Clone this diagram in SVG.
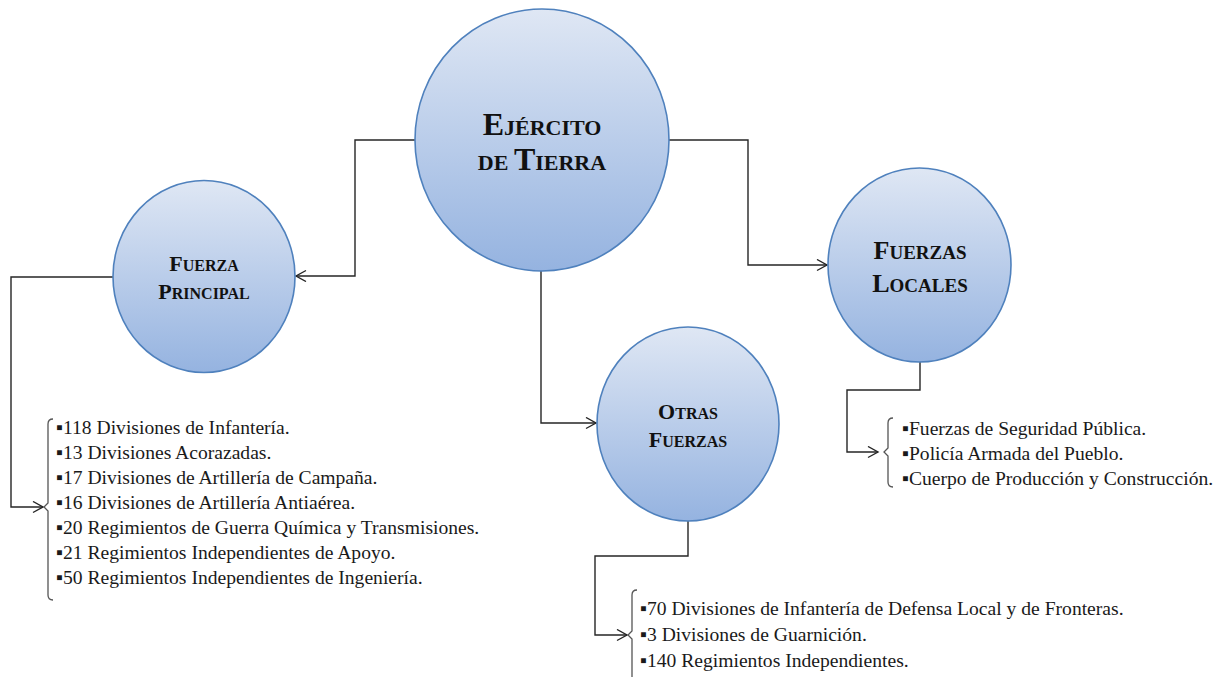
<svg xmlns="http://www.w3.org/2000/svg" width="1220" height="677" viewBox="0 0 1220 677">
<defs>
<linearGradient id="g" x1="0" y1="0" x2="0" y2="1">
<stop offset="0" stop-color="#dfe7f4"/>
<stop offset="1" stop-color="#95b3e0"/>
</linearGradient>
<marker id="arr" markerWidth="14" markerHeight="14" refX="11" refY="6" orient="auto" markerUnits="userSpaceOnUse">
<path d="M1,0.5 L11,6 L1,11.5" fill="none" stroke="#262626" stroke-width="1.4"/>
</marker>
</defs>
<style>
.node{fill:url(#g);stroke:#4f81bd;stroke-width:1.6}
.t{font-family:"Liberation Serif","Times New Roman",serif;font-weight:bold;fill:#111;text-anchor:middle}
.c{fill:none;stroke:#262626;stroke-width:1.4}
.br{fill:none;stroke:#555;stroke-width:1.3}
.l{font-family:"Liberation Serif","Times New Roman",serif;font-size:19.6px;fill:#1a1a1a}
</style>
<rect width="1220" height="677" fill="#fff"/>
<g id="connectors">
<path class="c" d="M415,140 H355 V276 H296" marker-end="url(#arr)"/>
<path class="c" d="M668,140 H748 V265 H827" marker-end="url(#arr)"/>
<path class="c" d="M541,271 V423 H596" marker-end="url(#arr)"/>
<path class="c" d="M113,277 H11 V507 H43" marker-end="url(#arr)"/>
<path class="c" d="M920,362 V390 H847 V452 H878" marker-end="url(#arr)"/>
<path class="c" d="M688,521 V556 H595 V635 H627" marker-end="url(#arr)"/>
<path class="br" d="M53,419 Q48,419 48,424 V503 L44,507 L48,511 V595 Q48,600 53,600"/>
<path class="br" d="M893,418 Q888,418 888,423 V448 L884,452 L888,456 V482 Q888,487 893,487"/>
<path class="br" d="M637,590 Q632,590 632,595 V631 L628,635 L632,639 V680"/>
</g>
<g id="ejercito">
<ellipse class="node" cx="542" cy="140" rx="127" ry="131"/>
<text class="t" x="542" y="135"><tspan font-size="32">E</tspan><tspan font-size="22">JÉRCITO</tspan></text>
<text class="t" x="542" y="170"><tspan font-size="22">DE </tspan><tspan font-size="32">T</tspan><tspan font-size="22">IERRA</tspan></text>
</g>
<g id="fuerza-principal">
<ellipse class="node" cx="204" cy="276.5" rx="91" ry="96"/>
<text class="t" x="204" y="271"><tspan font-size="22">F</tspan><tspan font-size="16">UERZA</tspan></text>
<text class="t" x="204" y="299"><tspan font-size="22">P</tspan><tspan font-size="16">RINCIPAL</tspan></text>
</g>
<g id="otras-fuerzas">
<ellipse class="node" cx="688" cy="424" rx="91" ry="97"/>
<text class="t" x="688" y="419"><tspan font-size="22">O</tspan><tspan font-size="16">TRAS</tspan></text>
<text class="t" x="688" y="447"><tspan font-size="22">F</tspan><tspan font-size="16">UERZAS</tspan></text>
</g>
<g id="fuerzas-locales">
<ellipse class="node" cx="919.5" cy="265" rx="91.5" ry="97"/>
<text class="t" x="920" y="259"><tspan font-size="26">F</tspan><tspan font-size="19">UERZAS</tspan></text>
<text class="t" x="920" y="292"><tspan font-size="26">L</tspan><tspan font-size="19">OCALES</tspan></text>
</g>
<g id="lista-principal">
<text class="l" x="56" y="434">▪118 Divisiones de Infantería.</text>
<text class="l" x="56" y="459">▪13 Divisiones Acorazadas.</text>
<text class="l" x="56" y="484">▪17 Divisiones de Artillería de Campaña.</text>
<text class="l" x="56" y="509">▪16 Divisiones de Artillería Antiaérea.</text>
<text class="l" x="56" y="534">▪20 Regimientos de Guerra Química y Transmisiones.</text>
<text class="l" x="56" y="559">▪21 Regimientos Independientes de Apoyo.</text>
<text class="l" x="56" y="584">▪50 Regimientos Independientes de Ingeniería.</text>
</g>
<g id="lista-locales">
<text class="l" x="902" y="435">▪Fuerzas de Seguridad Pública.</text>
<text class="l" x="902" y="460">▪Policía Armada del Pueblo.</text>
<text class="l" x="902" y="485">▪Cuerpo de Producción y Construcción.</text>
</g>
<g id="lista-otras">
<text class="l" x="640" y="615">▪70 Divisiones de Infantería de Defensa Local y de Fronteras.</text>
<text class="l" x="640" y="641">▪3 Divisiones de Guarnición.</text>
<text class="l" x="640" y="667">▪140 Regimientos Independientes.</text>
</g>
</svg>
